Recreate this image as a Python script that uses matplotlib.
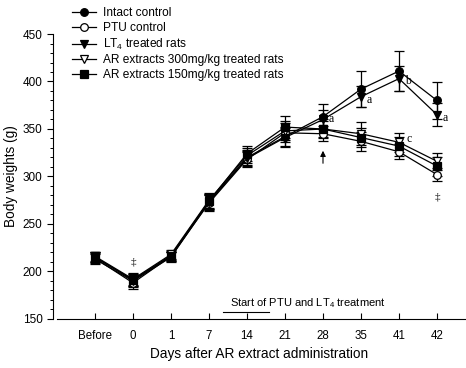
import numpy as np
import matplotlib
matplotlib.use('Agg')
import matplotlib.pyplot as plt
from matplotlib.ticker import MultipleLocator

plt.rcParams['font.family'] = ['Liberation Sans', 'DejaVu Sans']
plt.rcParams['mathtext.default'] = 'regular'

# data
days = ['Before', '0', '1', '7', '14', '21', '28', '35', '41', '42']
intact = [215, 191, 217, 274, 320, 342, 363, 392, 411, 380]
intact_se = [5, 6, 5, 8, 8, 10, 13, 19, 21, 19]
ptu = [214, 188, 216, 272, 318, 346, 345, 337, 326, 302]
ptu_se = [5, 6, 5, 8, 8, 10, 8, 10, 8, 7]
lt4 = [213, 190, 215, 273, 319, 341, 360, 384, 403, 365]
lt4_se = [5, 6, 5, 8, 8, 10, 10, 11, 13, 12]
ar300 = [216, 192, 218, 275, 322, 348, 350, 345, 336, 316]
ar300_se = [5, 6, 5, 8, 8, 10, 8, 12, 10, 9]
ar150 = [215, 191, 216, 274, 324, 352, 350, 341, 332, 311]
ar150_se = [5, 6, 5, 8, 8, 12, 10, 10, 10, 10]

series = [
    ('Intact control', intact, intact_se, 'o', 'black'),
    ('PTU control', ptu, ptu_se, 'o', 'white'),
    ('LT$_4$ treated rats', lt4, lt4_se, 'v', 'black'),
    ('AR extracts 300mg/kg treated rats', ar300, ar300_se, 'v', 'white'),
    ('AR extracts 150mg/kg treated rats', ar150, ar150_se, 's', 'black'),
]

fig = plt.figure(figsize=(4.66, 3.68), dpi=100)
ax = fig.add_axes([0.1137, 0.1332, 0.8863, 0.7744])

x = np.arange(len(days))
handles = []
for label, vals, se, mk, fc in series:
    ax.errorbar(x, vals, yerr=se, fmt='none', ecolor='black', elinewidth=0.9,
                capsize=3.6, capthick=0.9, zorder=2)
    h, = ax.plot(x, vals, color='black', lw=0.9, marker=mk, ms=5.5,
                 mfc=fc, mec='black', mew=0.9, label=label, zorder=3)
    handles.append(h)

ax.set_xlim(-1.105, 9.763)
ax.set_ylim(150, 450)
ax.set_xticks(x)
ax.set_xticklabels(days, fontsize=8.3)
ax.yaxis.set_major_locator(MultipleLocator(50))
ax.yaxis.set_minor_locator(MultipleLocator(10))
ax.tick_params(axis='y', which='major', direction='out', length=4, width=0.8, labelsize=8.5)
ax.tick_params(axis='y', which='minor', direction='out', length=2, width=0.7)
ax.tick_params(axis='x', which='major', direction='in', length=4, width=0.8, pad=8)

for s in ['top', 'right']:
    ax.spines[s].set_visible(False)
ax.spines['left'].set_linewidth(0.8)
ax.spines['bottom'].set_linewidth(0.8)
ax.spines['bottom'].set_bounds(-1.0, 9.763)

ax.set_ylabel('Body weights (g)', fontsize=9.8)
ax.set_xlabel('Days after AR extract administration', fontsize=9.8)
ax.yaxis.set_label_coords(-0.085, 0.5)
ax.xaxis.set_label_coords(0.5, -0.098)

# significance marks
serif = ['Liberation Serif', 'DejaVu Serif']
ax.text(6.15, 360, 'a', family=serif, fontsize=8.5, va='center')
ax.text(7.15, 380, 'a', family=serif, fontsize=8.5, va='center')
ax.text(8.15, 400, 'b', family=serif, fontsize=8.5, va='center')
ax.text(9.15, 362, 'a', family=serif, fontsize=8.5, va='center')
ax.text(8.2, 339, 'c', family=serif, fontsize=8.5, va='center')
ax.text(1, 210, '‡', family=serif, fontsize=8, ha='center', va='center')
ax.text(9, 278, '‡', family=serif, fontsize=8, ha='center', va='center')
ax.annotate('', xy=(6, 330), xytext=(6, 311),
            arrowprops=dict(arrowstyle='-|>', color='black', lw=0.8,
                            mutation_scale=8))

ax.text(3.55, 167, 'Start of PTU and LT$_4$ treatment', fontsize=8, va='center')
ax.plot([3.37, 4.58], [157, 157], color='black', lw=0.8)

ax.legend(handles=handles, loc='upper left', bbox_to_anchor=(0.035, 1.11),
          frameon=False, fontsize=8.6, handlelength=2.0, handletextpad=0.6,
          labelspacing=0.22, borderaxespad=0)

fig.savefig('out.png', dpi=100)
